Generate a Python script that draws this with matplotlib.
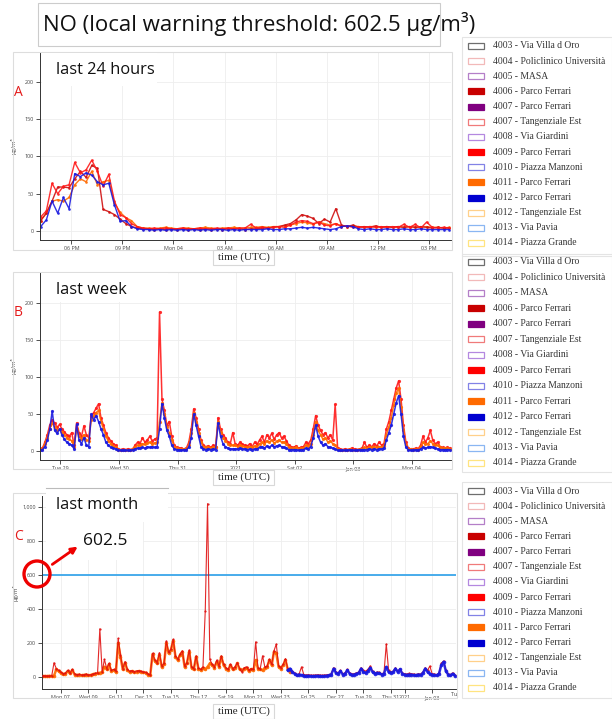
"""NO concentration panels (last 24 h / week / month) with station legends."""

import matplotlib

matplotlib.use("Agg")
import matplotlib.pyplot as plt
import numpy as np
from matplotlib.patches import Ellipse, FancyArrowPatch, Rectangle
from matplotlib.transforms import Bbox, TransformedBbox

# ---------------------------------------------------------------- data
THRESHOLD = 602.5

# panel A: 20-minute samples, hours since Jan 03 00:00
a_start, a_step = 16.2, 1 / 3
a_4009 = [19, 27, 64, 50, 60, 62, 92, 78, 82, 95, 80, 60, 76, 40, 22, 18, 10, 6, 4,
          3, 4, 3, 4, 3, 3, 4, 3, 3, 4, 3, 3, 4, 3, 4, 3, 4, 4,
          9, 4, 5, 4, 5, 6, 5,
          8, 12, 14, 13, 10, 12, 8, 7, 10, 6, 7, 5,
          6, 5, 6, 5, 6, 5, 6, 5, 9, 5, 9, 4, 12, 5, 4, 5, 4]
a_4006 = [14, 24, 40, 59, 59, 58, 70, 80, 72, 88, 84, 29, 26, 22, 16, 10, 6, 4, 3,
          3, 2, 3, 2, 3, 2, 3, 2, 3, 2, 3, 2, 3, 2, 3, 3, 3, 2,
          3, 3, 4, 4, 5, 6, 8,
          10, 15, 22, 20, 17, 10, 16, 12, 30, 8, 6, 8,
          5, 6, 5, 7, 5, 6, 5, 6, 5, 6, 5, 6, 5, 4, 5, 4, 4]
a_4011 = [14, 24, 40, 42, 40, 45, 62, 70, 66, 80, 62, 66, 68, 38, 25, 18, 14, 6, 4,
          4, 3, 4, 5, 4, 3, 4, 4, 3, 4, 5, 4, 3, 4, 4, 5, 4, 4,
          5, 5, 6, 5, 6, 6, 7,
          8, 10, 12, 11, 9, 12, 10, 8, 10, 7, 6, 7,
          6, 5, 6, 6, 5, 6, 5, 6, 5, 6, 5, 5, 6, 5, 5, 4, 5]
a_4012 = [6, 15, 40, 24, 45, 30, 77, 73, 78, 75, 66, 62, 64, 35, 13, 14, 6, 3, 2,
          2, 1, 2, 1, 2, 1, 2, 1, 2, 1, 2, 1, 2, 2, 1, 2, 1, 2,
          2, 2, 2, 3, 2, 2, 3,
          3, 4, 5, 4, 5, 4, 3, 2, 3, 6, 7, 6,
          3, 2, 3, 2, 2, 3, 2, 2, 3, 2, 2, 3, 2, 2, 2, 2, 2]
a_ticks = [18, 21, 24, 27, 30, 33, 36, 39]
a_labels = ["06 PM", "09 PM", "Mon 04", "03 AM", "06 AM", "09 AM", "12 PM", "03 PM"]

# panel B: hourly samples, day of December
b_start, b_step = 28.65, 1 / 24
b_4009 = [3, 4, 12, 22, 35, 42, 38, 32, 36, 30, 26, 22, 20,
          25, 8, 38, 25, 20, 34, 22, 18,
          48, 52, 58, 64, 45, 35, 25, 18, 14, 10, 8,
          3, 2, 3, 2, 3, 2, 3,
          8, 12, 10, 18, 12, 15, 20, 14, 16, 18,
          188, 70, 55, 35, 40, 20, 8, 5,
          4, 4, 3, 4, 12, 30,
          57, 45, 30, 15, 8,
          6, 7, 5, 8, 6,
          45, 30, 22, 18, 12, 10, 25,
          10, 8, 12, 9, 8, 7, 10, 6, 12, 9,
          15, 20, 12, 22, 18, 24, 16, 22, 25, 18, 20, 14,
          8, 6, 5, 7, 4, 5, 6,
          12, 10, 15, 30, 48, 35, 28, 22, 25, 18, 22, 15, 63,
          4, 3, 2, 3, 2, 3, 4, 3, 2, 3, 4,
          12, 5, 8, 6, 10, 7, 12, 8, 10,
          30, 40, 55, 70, 85, 95, 70, 35, 12,
          4, 3, 3, 4, 3,
          8, 20, 12, 18, 28, 15, 10, 12, 6,
          5, 4, 5, 4]
b_4011 = [2, 3, 10, 18, 30, 38, 32, 28, 30, 26, 22, 18, 16,
          14, 6, 30, 20, 16, 22, 15, 14,
          42, 48, 52, 55, 40, 30, 20, 14, 10, 7, 5,
          2, 2, 2, 2, 2, 2, 3,
          6, 8, 8, 10, 9, 11, 12, 10, 11, 12,
          40, 65, 50, 32, 25, 15, 6, 4,
          3, 3, 3, 3, 8, 24,
          52, 40, 25, 12, 6,
          5, 5, 4, 6, 5,
          40, 26, 18, 14, 10, 8, 8,
          8, 6, 8, 7, 6, 5, 6, 5, 7, 6,
          10, 12, 9, 14, 12, 15, 11, 13, 15, 12, 12, 10,
          5, 4, 4, 5, 3, 4, 4,
          8, 7, 10, 22, 40, 28, 22, 16, 18, 12, 14, 10, 8,
          3, 2, 2, 2, 2, 3, 2, 2, 2, 3, 3,
          5, 4, 5, 5, 6, 5, 6, 6, 7,
          22, 32, 45, 62, 78, 85, 60, 28, 8,
          3, 3, 2, 3, 2,
          6, 12, 9, 10, 14, 10, 8, 8, 5,
          4, 4, 4, 3]
b_4012 = [1, 2, 6, 15, 30, 54, 28, 24, 30, 22, 16, 12, 10,
          8, 3, 36, 15, 10, 18, 8, 6,
          50, 42, 48, 40, 30, 22, 12, 8, 5, 4, 3,
          1, 1, 1, 1, 1, 1, 2,
          3, 4, 4, 5, 4, 6, 5, 6, 5, 6,
          30, 64, 45, 28, 20, 8, 3, 2,
          2, 1, 2, 2, 5, 18,
          50, 35, 20, 6, 3,
          2, 3, 2, 3, 2,
          38, 20, 10, 6, 4, 3, 3,
          3, 3, 4, 3, 3, 2, 3, 2, 3, 3,
          5, 6, 4, 7, 5, 8, 6, 7, 8, 6, 5, 4,
          2, 2, 2, 2, 1, 2, 2,
          4, 3, 6, 18, 35, 20, 12, 8, 10, 6, 5, 4, 3,
          1, 1, 1, 1, 1, 2, 1, 1, 1, 2, 2,
          2, 2, 3, 2, 3, 2, 3, 3, 4,
          15, 25, 35, 50, 65, 75, 50, 20, 5,
          2, 1, 1, 2, 1,
          3, 5, 4, 5, 6, 5, 4, 3, 2,
          2, 2, 2, 2]
b_ticks = [29, 30, 31, 32, 33, 34, 35]
b_labels = ["Tue 29", "Wed 30", "Thu 31", "2021", "Sat 02", "Jan 03", "Mon 04"]

# panel C: 4-hour samples, day of December
c_start, c_step = 5.67, 1 / 6
c_4011 = [5, 6, 5, 7, 6, 8,
          45, 35, 25, 18, 20, 35, 22, 40, 15, 12,
          14, 10, 12, 15, 10, 12, 16,
          20, 22, 25, 28, 60, 45, 75, 35, 40, 30, 200, 120, 45, 85, 40,
          30, 35, 28, 32, 35, 30, 28, 25, 15, 12,
          135, 95, 80, 130, 60, 75, 200, 140, 160, 215,
          120, 100, 130, 150, 60, 80, 150, 55, 45, 120, 50, 40, 55,
          45, 60, 80, 70, 55, 90, 60, 120, 70, 50, 40, 70, 45, 55, 80, 45,
          40, 50, 55, 35, 45, 40, 100, 50, 45, 40, 55, 60, 100, 70, 150, 140,
          60, 50, 70, 100, 45, 30]
c_4009 = [7, 8, 6, 8, 7, 84,
          50, 40, 28, 20, 24, 40, 25, 45, 18, 14,
          16, 12, 14, 17, 12, 14, 18,
          22, 24, 284, 30, 104, 50, 80, 40, 45, 35, 227, 130, 50, 90, 45,
          34, 38, 32, 36, 38, 34, 30, 28, 18, 14,
          140, 100, 85, 143, 65, 80, 212, 145, 163, 222,
          125, 105, 135, 153, 65, 85, 159, 60, 50, 124, 55, 45, 60,
          390, 1020, 104, 75, 60, 100, 65, 124, 75, 55, 45, 75, 50, 60, 85, 50,
          30, 55, 60, 40, 50, 45, 207, 55, 50, 125, 60, 65, 104, 75, 155, 194,
          65, 55, 75, 108, 50, 40,
          35, 25, 15, 20, 60,
          15, 12, 14, 12, 10, 12, 14, 12, 10, 12, 14, 15, 20,
          55, 30, 25, 40, 20, 25, 45,
          25, 18, 20, 25, 30, 55, 40, 35, 45, 65,
          35, 25, 30, 28, 20, 25, 194, 40, 30, 35, 55, 35, 50,
          25, 20, 18, 22, 20, 18, 15, 20, 18, 30, 55, 40, 65,
          20, 18, 15, 25, 80, 95, 40, 20, 15, 25, 12]
c_blue_start = c_start + 107 * c_step
c_4012 = [40, 50, 30, 20, 10, 15, 12,
          8, 6, 8, 6, 5, 6, 8, 6, 5, 6, 8, 10, 15,
          50, 25, 20, 35, 15, 20, 40,
          20, 12, 15, 20, 25,
          50, 30, 25, 35, 55,
          30, 20, 25, 22, 15, 20,
          60, 30, 25, 30, 50, 30, 45,
          20, 15, 12, 15, 14, 12, 10, 15, 12, 25,
          50, 30, 20,
          15, 12, 10, 20,
          70, 90, 35,
          15, 10, 20, 8]
c_ticks = [7, 9, 11, 13, 15, 17, 19, 21, 23, 25, 27, 29, 31, 32, 34]
c_labels = ["Mon 07", "Wed 09", "Fri 11", "Dec 13", "Tue 15", "Thu 17", "Sat 19",
            "Mon 21", "Wed 23", "Fri 25", "Dec 27", "Tue 29", "Thu 31", "2021", "Jan 03"]

legend_labels = ["4003 - Via Villa d Oro", "4004 - Policlinico Università", "4005 - MASA",
                 "4006 - Parco Ferrari", "4007 - Parco Ferrari", "4007 - Tangenziale Est",
                 "4008 - Via Giardini", "4009 - Parco Ferrari", "4010 - Piazza Manzoni",
                 "4011 - Parco Ferrari", "4012 - Parco Ferrari", "4012 - Tangenziale Est",
                 "4013 - Via Pavia", "4014 - Piazza Grande"]
legend_colors = ["#6e6e6e", "#f2b9b9", "#b47fc8", "#c80000", "#800080", "#f07a7a",
                 "#b488e0", "#ff0000", "#8282e6", "#ff6a00", "#0000d0", "#ffd08a",
                 "#8ab6f2", "#ffe480"]
legend_filled = [False, False, False, True, True, False, False, True, False, True,
                 True, False, False, False]

COL = {"4006": "#d01010", "4009": "#ff1a1a", "4011": "#ff6a00", "4012": "#1a1ae0"}

# ---------------------------------------------------------------- layout
W, H = 612, 719
fig = plt.figure(figsize=(W / 100, H / 100), dpi=100)
plt.rcParams["font.family"] = ["Open Sans", "DejaVu Sans"]
SERIF = "Liberation Serif"


def fx(x):
    return x / W


def fy(y):
    return 1 - y / H


def px_rect(x0, y0, x1, y1, **kw):
    r = Rectangle((fx(x0), fy(y1)), (x1 - x0) / W, (y1 - y0) / H,
                  transform=fig.transFigure, **kw)
    fig.add_artist(r)
    return r


def times(start, step, values):
    return start + np.arange(len(values)) * step


def setup_axes(box, xlim, ylim, xticks, xlabels, yticks, ylabels):
    x0, y0, x1, y1 = box
    ax = fig.add_axes([fx(x0), fy(y1), (x1 - x0) / W, (y1 - y0) / H])
    ax.set_facecolor("none")
    ax.set_xlim(*xlim)
    ax.set_ylim(*ylim)
    ax.set_xticks(xticks, xlabels)
    ax.set_yticks(yticks, ylabels)
    ax.spines[["top", "right"]].set_visible(False)
    for s in ("left", "bottom"):
        ax.spines[s].set_color("#333333")
        ax.spines[s].set_linewidth(0.7)
    ax.tick_params(labelsize=3.9, length=3, width=0.6, color="#333333",
                   labelcolor="#444444", pad=1.5)
    ax.grid(True, color="#eeeeee", lw=0.6)
    ax.set_axisbelow(True)
    ax.set_ylabel("µg/m³", fontsize=4.2, color="#444444")
    ax.yaxis.set_label_coords(-24 / (x1 - x0), 0.5)
    return ax


def series(ax, start, step, values, color, lw=0.9, ms=1.6, z=2):
    ax.plot(times(start, step, values), values, color=color, lw=lw, marker="o",
            ms=ms, mew=0, alpha=0.9, zorder=z)


def time_box(y0):
    px_rect(213, y0, 274, y0 + 15, facecolor="white", edgecolor="#d8d8d8", lw=0.8)
    fig.text(fx(243.5), fy(y0 + 7.5), "time (UTC)", family=SERIF, fontsize=8,
             ha="center", va="center", color="#222222")


def legend_block(y_first, gap, box):
    px_rect(*box, facecolor="none", edgecolor="#e4e4e4", lw=0.8)
    for i, (lab, col, filled) in enumerate(zip(legend_labels, legend_colors, legend_filled)):
        yc = y_first + i * gap
        px_rect(468, yc - 3, 484, yc + 3, facecolor=col if filled else "white",
                edgecolor=col, lw=0.9)
        fig.text(fx(493), fy(yc), lab, family=SERIF, fontsize=6.9, ha="left",
                 va="center", color="#333333")


# title box (text runs past the box edge as in the original)
px_rect(38, 3, 440, 46, facecolor="white", edgecolor="#cccccc", lw=0.8)
fig.text(fx(43), fy(24), "NO (local warning threshold: 602.5 µg/m³)", fontsize=16,
         ha="left", va="center", color="#111111")

# panel frames
px_rect(13, 52, 452, 250, facecolor="none", edgecolor="#dddddd", lw=0.8)
px_rect(13, 272, 452, 469, facecolor="none", edgecolor="#dddddd", lw=0.8)
px_rect(13, 493, 457, 698, facecolor="none", edgecolor="#dddddd", lw=0.8)

# ---- panel A
ax_a = setup_axes((40, 52, 451, 240), (16.16, 40.3), (-12, 240), a_ticks, a_labels,
                  [0, 50, 100, 150, 200], ["0", "50", "100", "150", "200"])
series(ax_a, a_start, a_step, a_4011, COL["4011"], lw=1.0, ms=1.9)
series(ax_a, a_start, a_step, a_4006, COL["4006"], lw=1.0, ms=1.9)
series(ax_a, a_start, a_step, a_4009, COL["4009"], lw=1.0, ms=1.9)
series(ax_a, a_start, a_step, a_4012, COL["4012"], lw=1.0, ms=1.9)

# ---- panel B
ax_b = setup_axes((40, 272, 451, 460), (28.65, 35.67), (-12, 242), b_ticks, b_labels,
                  [0, 50, 100, 150, 200], ["0", "50", "100", "150", "200"])
series(ax_b, b_start, b_step, b_4009, COL["4009"], lw=1.1, ms=2.3)
series(ax_b, b_start, b_step, b_4011, COL["4011"], lw=1.1, ms=2.3)
series(ax_b, b_start, b_step, b_4012, COL["4012"], lw=1.1, ms=2.3)

# ---- panel C
ax_c = setup_axes((42, 496, 456, 689), (5.63, 35.74), (-70, 1065), c_ticks, c_labels,
                  [0, 200, 400, 600, 800, 1000], ["0", "200", "400", "600", "800", "1,000"])
ax_c.axhline(THRESHOLD, color="#3aa6ea", lw=1.3, zorder=1.5)
series(ax_c, c_start, c_step, c_4011, COL["4011"], lw=1.8, ms=2.6, z=2)
series(ax_c, c_start, c_step, c_4009, "#e01010", lw=0.8, ms=1.6, z=3)
series(ax_c, c_blue_start, c_step, c_4012, COL["4012"], lw=1.8, ms=2.6, z=4)

# cut-off last tick label at the right edge
tue = fig.text(fx(459.6), fy(692), "Tue 05", fontsize=3.9, color="#444444",
               ha="center", va="top")
tue.set_clip_box(TransformedBbox(Bbox.from_extents(0, 0, fx(457), 1), fig.transFigure))
tue.set_clip_on(True)

# annotation boxes and labels
px_rect(42, 53, 157, 86, facecolor="white", edgecolor="none", zorder=3)
px_rect(42, 273, 168, 302, facecolor="white", edgecolor="none", zorder=3)
px_rect(46, 488, 168, 522, facecolor="white", edgecolor="none", zorder=3)
fig.add_artist(plt.Line2D([fx(46), fx(168)], [fy(488), fy(488)], color="#bbbbbb",
                          lw=0.8, transform=fig.transFigure, zorder=3))
px_rect(46, 522, 143, 560, facecolor="white", edgecolor="none", zorder=3)

fig.text(fx(56), fy(70), "last 24 hours", fontsize=11.8, ha="left", va="center",
         color="#111111", zorder=4)
fig.text(fx(56), fy(290), "last week", fontsize=11.8, ha="left", va="center",
         color="#111111", zorder=4)
fig.text(fx(56), fy(505), "last month", fontsize=11.8, ha="left", va="center",
         color="#111111", zorder=4)
fig.text(fx(83), fy(541), "602.5", fontsize=12.5, ha="left", va="center",
         color="#111111", zorder=4)

for letter, yc in (("A", 92), ("B", 313), ("C", 536)):
    fig.text(fx(14), fy(yc), letter, fontsize=10, ha="left", va="center",
             color="#e41a1a", zorder=4)

ring = Ellipse((fx(37), fy(574)), 26 / W, 26 / H, transform=fig.transFigure,
               fill=False, edgecolor="#ee0000", lw=2.4, zorder=5)
fig.add_artist(ring)
arrow = FancyArrowPatch((fx(50), fy(566)), (fx(80), fy(545)), transform=fig.transFigure,
                        arrowstyle="-|>", mutation_scale=9, color="#ee0000", lw=2,
                        zorder=5)
fig.add_artist(arrow)

time_box(250)
time_box(470)
time_box(704)

legend_block(46, 15.15, (462, 37, 612, 256))
legend_block(262, 15.46, (462, 254, 612, 472))
legend_block(491, 15.15, (462, 482, 612, 698))

fig.savefig("out.png", dpi=100, facecolor="white")
